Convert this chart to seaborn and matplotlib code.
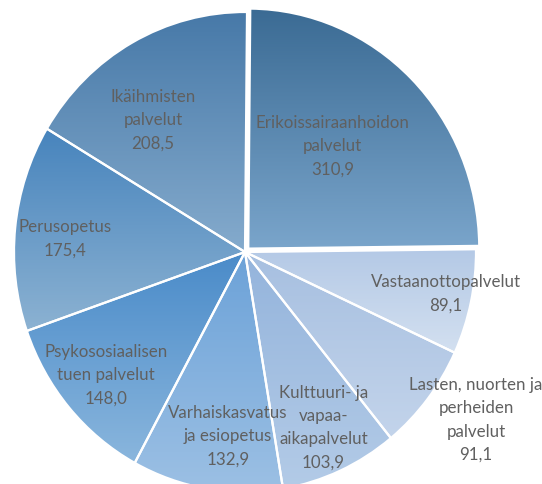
import matplotlib
matplotlib.use('Agg')
import matplotlib.pyplot as plt
from matplotlib.colors import LinearSegmentedColormap
import numpy as np
import seaborn as sns

# services and their values (milj. euroa), clockwise from the top
services = [
	"Erikoissairaanhoidon\npalvelut",
	"Vastaanottopalvelut",
	"Lasten, nuorten ja\nperheiden\npalvelut",
	"Kulttuuri- ja\nvapaa-\naikapalvelut",
	"Varhaiskasvatus\nja esiopetus",
	"Psykososiaalisen\ntuen palvelut",
	"Perusopetus",
	"Ikäihmisten\npalvelut",
]
values = [310.9, 89.1, 91.1, 103.9, 132.9, 148.0, 175.4, 208.5]
value_text = ["310,9", "89,1", "91,1", "103,9", "132,9", "148,0", "175,4", "208,5"]

top_colors = ["#3b6b94", "#b4c9e6", "#a6bfe0", "#94b4dc", "#6ca2d8", "#4a8bc9", "#4784bd", "#4779a8"]
bottom_colors = ["#7aa5cb", "#d3e0f0", "#c3d4eb", "#b3cbe7", "#9cc0e4", "#8ab6dd", "#8cb2d2", "#85abcd"]

# label centre relative to the slice centre, in radius units
label_offset = [(0.366, 0.427), (0.870, -0.175), (1.0, -0.70), (0.34, -0.733),
	(-0.075, -0.767), (-0.602, -0.5125), (-0.779, 0.054), (-0.398, 0.55)]


def draw_pie():
	sns.set_theme(style="white")
	plt.rcParams['font.family'] = ['Lato', 'DejaVu Sans']

	fig = plt.figure(figsize=(5.42, 4.84), dpi=100)
	ax = fig.add_axes([0, 0, 1, 1])

	explode = [0.02] + [0] * (len(values) - 1)
	wedges, _ = ax.pie(
		values,
		startangle=89.5,
		counterclock=False,
		explode=explode,
		wedgeprops=dict(edgecolor='white', linewidth=1.6, facecolor='none', zorder=3),
	)

	grad = np.linspace(0, 1, 256).reshape(-1, 1)
	for i, w in enumerate(wedges):
		ext = w.get_path().get_extents()
		cmap = LinearSegmentedColormap.from_list('g%d' % i, [top_colors[i], bottom_colors[i]])
		im = ax.imshow(grad, cmap=cmap, extent=(ext.x0, ext.x1, ext.y0, ext.y1),
			origin='upper', aspect='auto', zorder=1, interpolation='bilinear')
		im.set_clip_path(w)

		cx, cy = w.center
		dx, dy = label_offset[i]
		ax.text(cx + dx, cy + dy,
			services[i] + "\n" + value_text[i],
			ha='center', va='center', multialignment='center',
			fontsize=12.2, color='#606060', linespacing=1.55, zorder=4)

	ax.set_aspect('auto')
	ax.set_xlim(-245 / 231, 297 / 231)
	ax.set_ylim(-232 / 240, 252 / 240)
	ax.axis('off')

	plt.savefig('out.png', dpi=100, facecolor='white')


def main():
	draw_pie()


if __name__ == "__main__":
	main()
